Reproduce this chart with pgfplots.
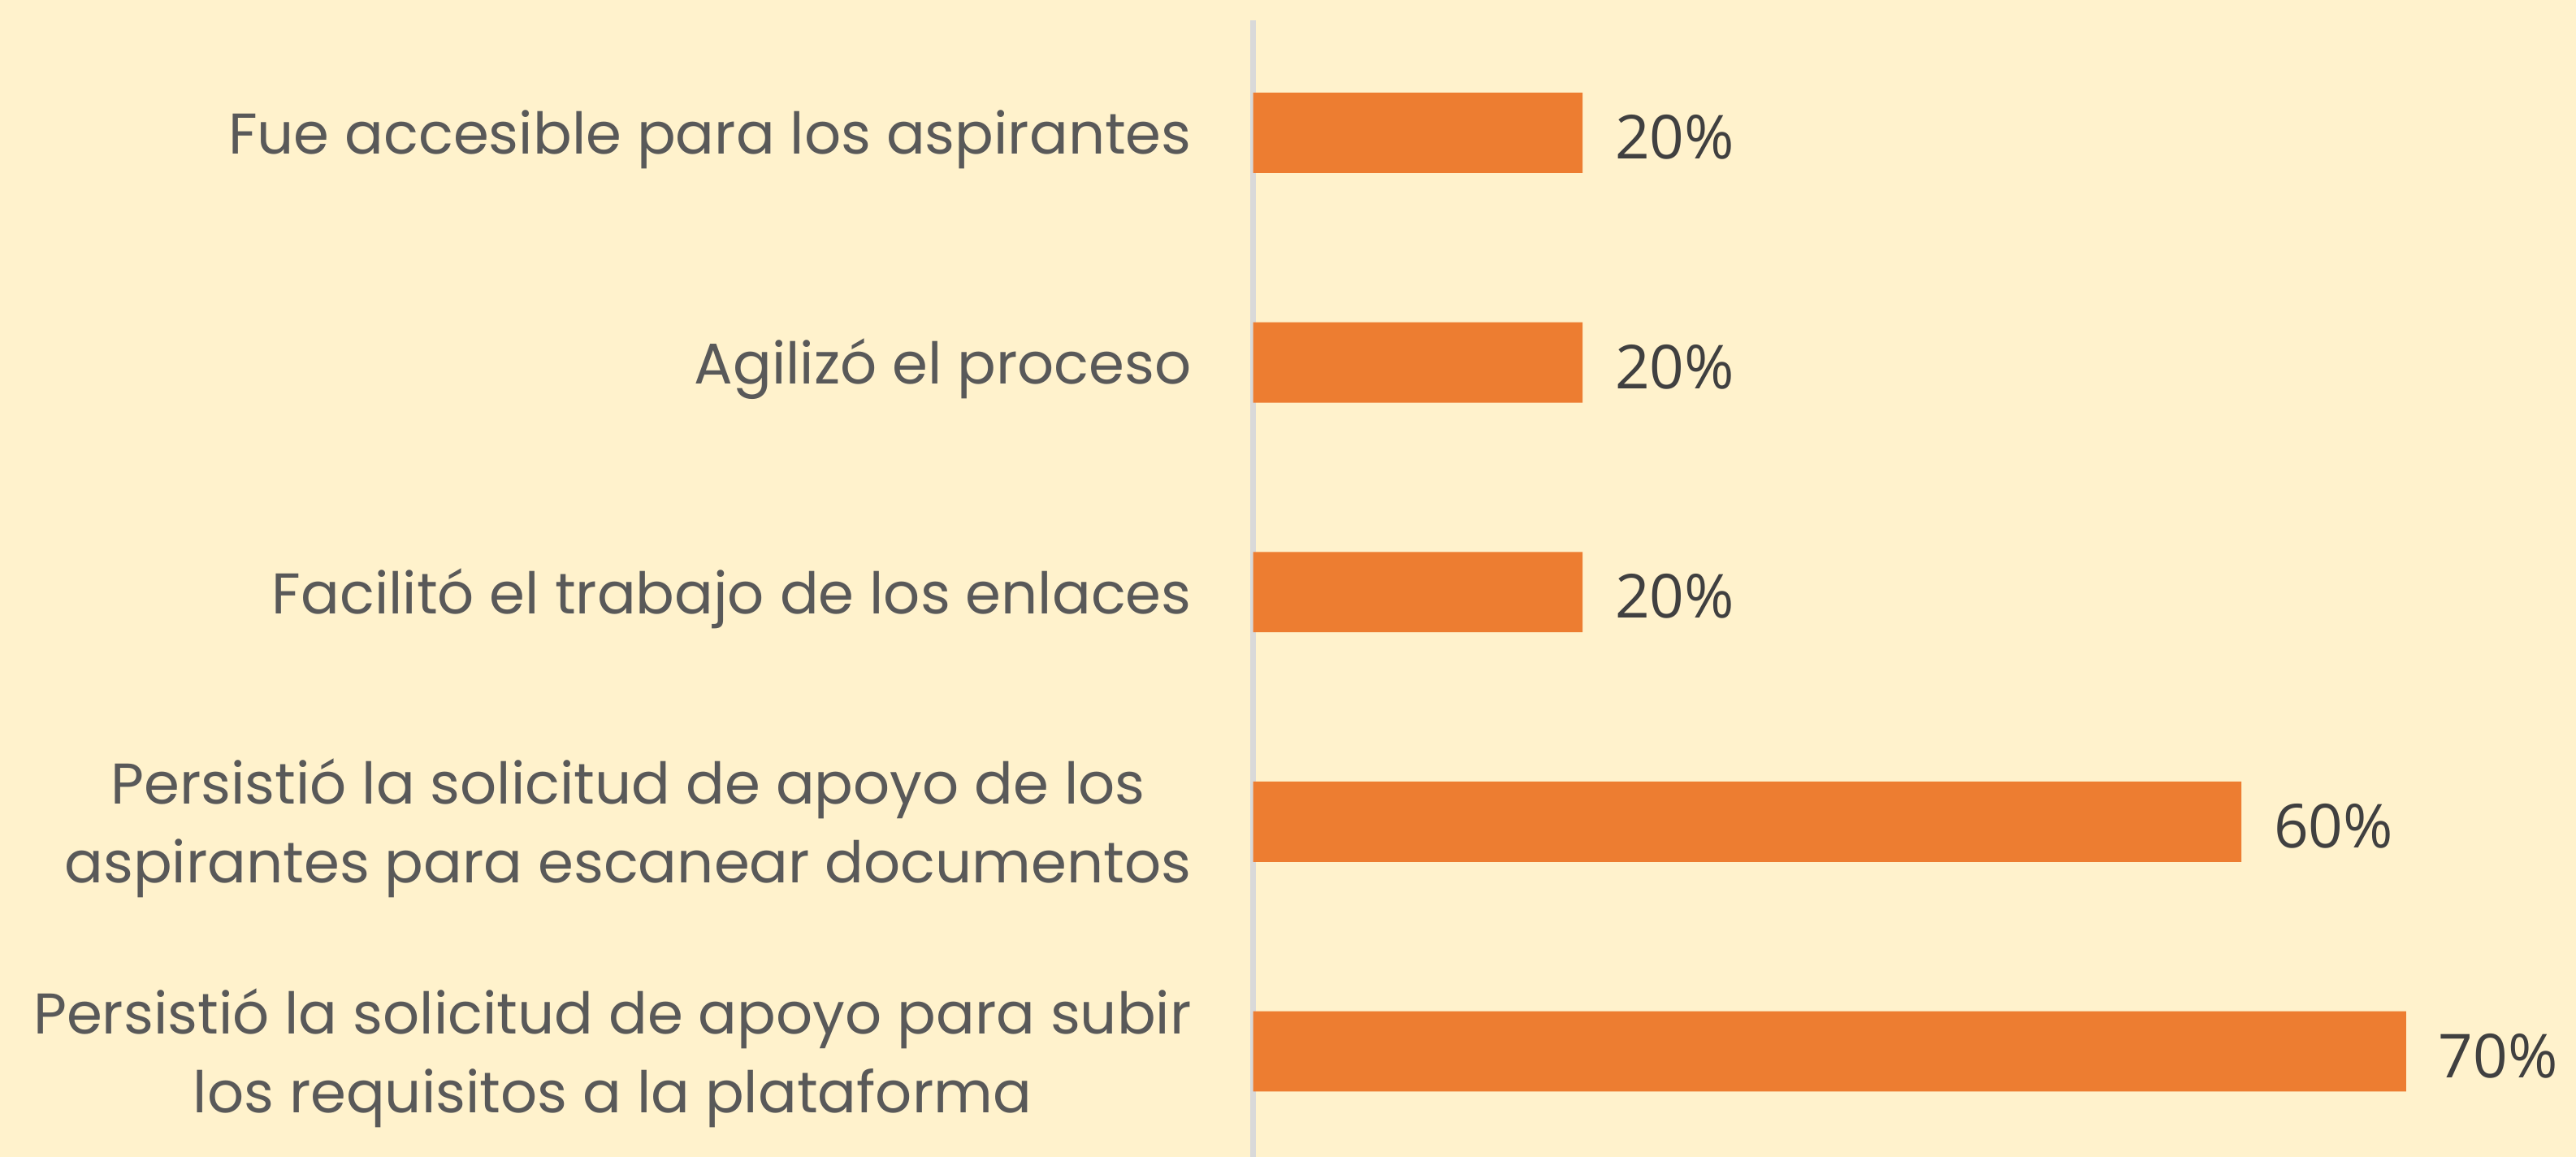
\documentclass[border=0pt]{standalone}
\usepackage{fontspec}
\setmainfont{Poppins}
\newfontfamily\numfont{Open Sans}
\usepackage{pgfplots}
\pgfplotsset{compat=1.18}

\definecolor{bgcol}{HTML}{FFF2CC}
\definecolor{barcol}{HTML}{ED7D31}
\definecolor{labcol}{HTML}{595959}
\definecolor{numcol}{HTML}{404040}
\definecolor{axcol}{HTML}{D9D9D9}

\begin{document}
\begin{tikzpicture}
  \fill[bgcol] (0,0) rectangle (475.65pt,213.6pt);
  \begin{axis}[
    at={(231.4pt,0pt)}, anchor=south west,
    scale only axis,
    width=244.2pt, height=209.85pt,
    xbar, bar width=0.35,
    xmin=0, xmax=80.3,
    ymin=-0.46, ymax=4.49,
    axis y line*=left, axis x line=none,
    y axis line style={draw=axcol, line width=1pt},
    xtick=\empty,
    ytick={0,1,2,3,4},
    yticklabels={
      {Persistió la solicitud de apoyo para subir\\los requisitos a la plataforma},
      {Persistió la solicitud de apoyo de los\\aspirantes para escanear documentos},
      {Facilitó el trabajo de los enlaces},
      {Agilizó el proceso},
      {Fue accesible para los aspirantes}},
    ytick style={draw=none},
    major tick length=0pt,
    yticklabel style={align=center, anchor=east, inner sep=0pt, xshift=-11.2pt, yshift=-1.2pt,
      text=labcol, font=\fontsize{10.6}{14.6}\selectfont},
    clip=false,
    /pgf/number format/assume math mode=true,
    nodes near coords={\pgfmathprintnumber{\pgfplotspointmeta}\%},
    point meta=x,
    every node near coord/.append style={anchor=west, inner sep=0pt, xshift=5.8pt, yshift=-0.8pt,
      text=numcol, font=\numfont\fontsize{11.2}{12}\selectfont},
  ]
    \addplot[draw=none, fill=barcol] coordinates {
      (70,0) (60,1) (20,2) (20,3) (20,4)
    };
  \end{axis}
  \pgfresetboundingbox
  \useasboundingbox (0,0) rectangle (475.65pt,213.6pt);
\end{tikzpicture}
\end{document}
